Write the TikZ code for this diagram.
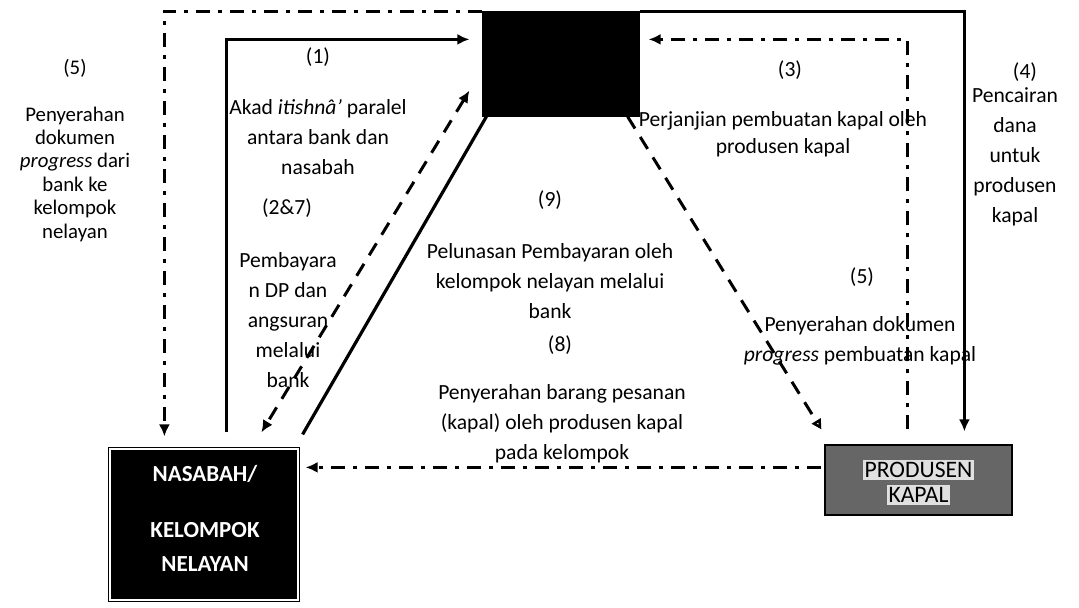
\documentclass[tikz,border=0pt]{standalone}
\usepackage{fontspec}
\setmainfont{Carlito}
\usetikzlibrary{positioning, arrows.meta, calc}

\begin{document}
\begin{tikzpicture}[x=0.5pt, y=-0.5pt,
    every node/.style={font=\fontsize{10.8}{15}\selectfont, align=center, inner sep=0pt},
    small/.style={font=\fontsize{10.4}{11.7}\selectfont},
    party/.style={draw=black, fill=black, line width=0.6pt},
    tip/.style={-{Latex[length=6pt,width=5.5pt]}},
    flow/.style={line width=1.6pt, tip},
    dashdot/.style={line width=1.5pt, dash pattern=on 7pt off 4pt on 2pt off 4pt},
    dashline/.style={line width=1.5pt, dash pattern=on 7pt off 5pt}
]
    \path[use as bounding box, fill=white] (0,0) rectangle (1079,608);

    % the three parties
    \node[party, minimum width=78pt, minimum height=52pt] (bank) at (561,64) {};
    \node[party, double=white, double distance=0.8pt, minimum width=94pt, minimum height=75.5pt] (nasabah) at (204,524.5) {};
    \node[text=white, font=\fontsize{11.5}{17}\bfseries] (nasabahtext) at (205,518)
          {NASABAH/\\[11pt]KELOMPOK\\NELAYAN};
    \node[party, fill=black!60, minimum width=93.5pt, minimum height=35pt] (produsen) at (918.5,480) {};
    \node[fill=white!88!black, inner sep=1pt, font=\fontsize{11.8}{14}\selectfont]
        (prod1) at ($(produsen.center)+(0,-10)$) {PRODUSEN};
    \node[fill=white!88!black, inner sep=1pt, font=\fontsize{11.8}{14}\selectfont]
        (prod2) at ($(produsen.center)+(0,15)$) {KAPAL};

    % connectors
    \draw[dashdot, tip] (bank.north west) -| ($(nasabah.north west)+(55,-12)$);
    \draw[flow] ($(nasabah.north west)+(117,-16)$) |- ($(bank.north west)+(-13,28)$);
    \draw[dashline, {Latex[length=6pt,width=5.5pt]}-{Latex[length=6pt,width=5.5pt]}]
        ($(bank.south west)+(-13,-26)$) -- ($(nasabah.north west)+(152,-16)$);
    \draw[line width=1.6pt] ($(bank.south west)+(4,0)$) -- ($(nasabah.north east)+(4,-14)$);
    \draw[dashline, -{Triangle[open,length=5pt,width=5pt]}]
        ($(bank.south east)+(-12,0)$) -- ($(produsen.north west)+(-3,-15)$);
    \draw[dashdot, tip] ($(produsen.north west)+(83,-15)$) |- ($(bank.north east)+(9,28)$);
    \draw[flow] (bank.north east) -| ($(produsen.north west)+(140,-13)$);
    \draw[dashdot, tip] ($(produsen.north west)+(-3,23)$) -- ($(nasabah.north east)+(7,19)$);

    % labels
    \node[small] (n5a) at (75,68) {(5)};
    \node[small] (t5a) at (75,174) {Penyerahan\\dokumen\\\textit{progress} dari\\bank ke\\kelompok\\nelayan};
    \node (n1) at (318,57) {(1)};
    \node (t1) at (318,137) {Akad \textit{itishnâ'} paralel\\antara bank dan\\nasabah};
    \node (n27) at (287,208) {(2\&7)};
    \node (t27) at (288,320) {Pembayara\\n DP dan\\angsuran\\melalui\\bank};
    \node (n9) at (550,200) {(9)};
    \node (t9) at (550,281) {Pelunasan Pembayaran oleh\\kelompok nelayan melalui\\bank};
    \node (n8) at (560,345) {(8)};
    \node (t8) at (562,424) {Penyerahan barang pesanan\\(kapal) oleh produsen kapal\\pada kelompok};
    \node (n3) at (790,70) {(3)};
    \node[font=\fontsize{10.8}{13.5}\selectfont] (t3) at (783,134) {Perjanjian pembuatan kapal oleh\\produsen kapal};
    \node (n4) at (1025,72) {(4)};
    \node (t4) at (1015,157) {Pencairan\\dana\\untuk\\produsen\\kapal};
    \node (n5b) at (862,277) {(5)};
    \node (t5b) at (860,341) {Penyerahan dokumen\\\textit{progress} pembuatan kapal};
\end{tikzpicture}
\end{document}
